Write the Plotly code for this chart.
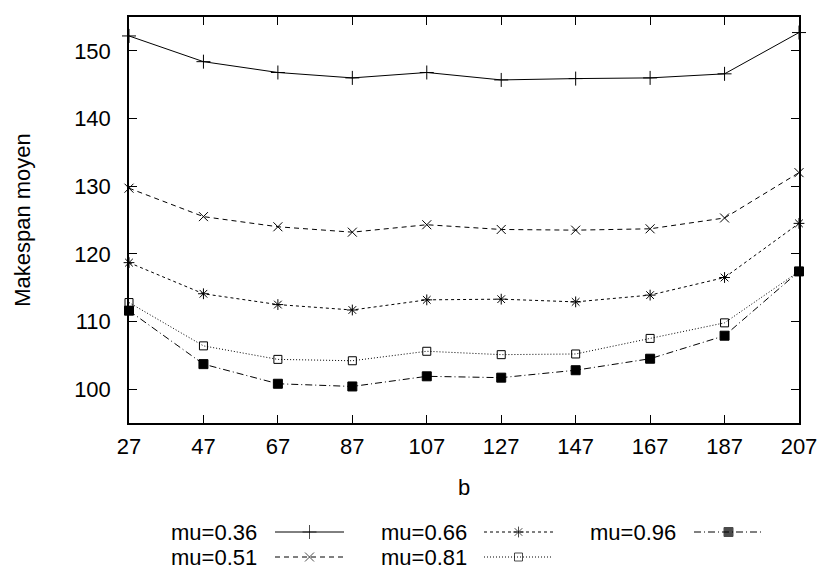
import plotly.graph_objects as go

# ---- data ----
b_values = [27, 47, 67, 87, 107, 127, 147, 167, 187, 207]
mu_036 = [152.2, 148.4, 146.8, 146.0, 146.8, 145.7, 145.9, 146.0, 146.6, 152.7]
mu_051 = [129.7, 125.5, 124.0, 123.2, 124.3, 123.6, 123.5, 123.7, 125.3, 132.0]
mu_066 = [118.7, 114.1, 112.5, 111.7, 113.2, 113.3, 112.9, 113.9, 116.5, 124.5]
mu_081 = [112.8, 106.4, 104.4, 104.2, 105.6, 105.1, 105.2, 107.5, 109.8, 117.4]
mu_096 = [111.6, 103.7, 100.8, 100.4, 101.9, 101.7, 102.8, 104.5, 107.9, 117.4]
series_names = ["mu=0.36", "mu=0.51", "mu=0.66", "mu=0.81", "mu=0.96"]
y_ticks = [100, 110, 120, 130, 140, 150]

# ---- styles ----
FONT = "Liberation Sans, Arial, sans-serif"
FS = 22
LFS = 22
styles = [
    dict(dash="solid", symbol="cross-thin-open", size=10),
    dict(dash="5px,4px", symbol="x-thin-open", size=9),
    dict(dash="3px,3px", symbol="asterisk-open", size=9),
    dict(dash="1px,2px", symbol="square-open", size=8),
    dict(dash="7px,3px,1px,3px", symbol="square", size=9),
]
series = [mu_036, mu_051, mu_066, mu_081, mu_096]

W, H = 826, 569
L, R, T, B = 129, 799, 17, 423
BOT = 564  # bottom of paper area

fig = go.Figure()
for name, vals, st in zip(series_names, series, styles):
    fig.add_trace(go.Scatter(
        x=b_values, y=vals, mode="lines+markers", name=name,
        line=dict(color="black", width=1, dash=st["dash"]),
        marker=dict(symbol=st["symbol"], size=st["size"], color="black",
                    line=dict(color="black", width=1)),
        showlegend=False, xaxis="x", yaxis="y", cliponaxis=False,
    ))

# ---- gnuplot-style legend (text then sample), on a hidden pixel-coordinate axis ----
legend_cols = [(258, 275, 344), (468, 484, 553), (677, 694, 763)]
legend_rows = [532, 557]
order = [(0, 0), (0, 1), (1, 0), (1, 1), (2, 0)]  # column-major
annotations = []
for (ci, ri), name, st in zip(order, series_names, styles):
    tx, lx0, lx1 = legend_cols[ci]
    yy = legend_rows[ri]
    fig.add_trace(go.Scatter(
        x=[lx0, (lx0 + lx1) / 2, lx1], y=[yy, yy, yy], mode="lines+markers",
        line=dict(color="black", width=1, dash=st["dash"]),
        marker=dict(symbol=st["symbol"], size=[0, st["size"], 0], color="black",
                    line=dict(color="black", width=1)),
        showlegend=False, hoverinfo="skip", xaxis="x2", yaxis="y2",
    ))
    annotations.append(dict(
        x=tx, y=yy, xref="x2", yref="y2", text=name, showarrow=False,
        xanchor="right", yanchor="middle", height=24, borderpad=0,
        font=dict(family=FONT, size=LFS, color="black"),
    ))

main_bottom = (BOT - B) / (BOT - T)
axis_common = dict(
    showgrid=False, zeroline=False, showline=True, linecolor="black", linewidth=1.5,
    mirror="allticks", ticks="inside", ticklen=8, tickwidth=1, tickcolor="black",
    tickfont=dict(family=FONT, size=FS, color="black"),
)
fig.update_layout(
    width=W, height=H,
    margin=dict(l=L, r=W - R, t=T, b=H - BOT, pad=0),
    paper_bgcolor="white", plot_bgcolor="white",
    font=dict(family=FONT, size=FS, color="black"),
    xaxis=dict(range=[27, 207], tickvals=b_values, ticklabelstandoff=3,
               title=dict(text="b", font=dict(family=FONT, size=FS), standoff=21),
               anchor="y", **axis_common),
    yaxis=dict(range=[95, 155], tickvals=y_ticks, domain=[main_bottom, 1],
               ticklabelstandoff=12,
               title=dict(text="Makespan moyen", font=dict(family=FONT, size=FS), standoff=37),
               anchor="x", **axis_common),
    xaxis2=dict(range=[L, R], domain=[0, 1], visible=False, anchor="y2", fixedrange=True),
    yaxis2=dict(range=[BOT, B], domain=[0, main_bottom], visible=False, anchor="x2", fixedrange=True),
    annotations=annotations,
    showlegend=False,
)
fig.write_html(
    "out.html",
    config={"displayModeBar": False},
    post_script="document.body.style.margin='0';document.body.style.overflow='hidden';",
)
